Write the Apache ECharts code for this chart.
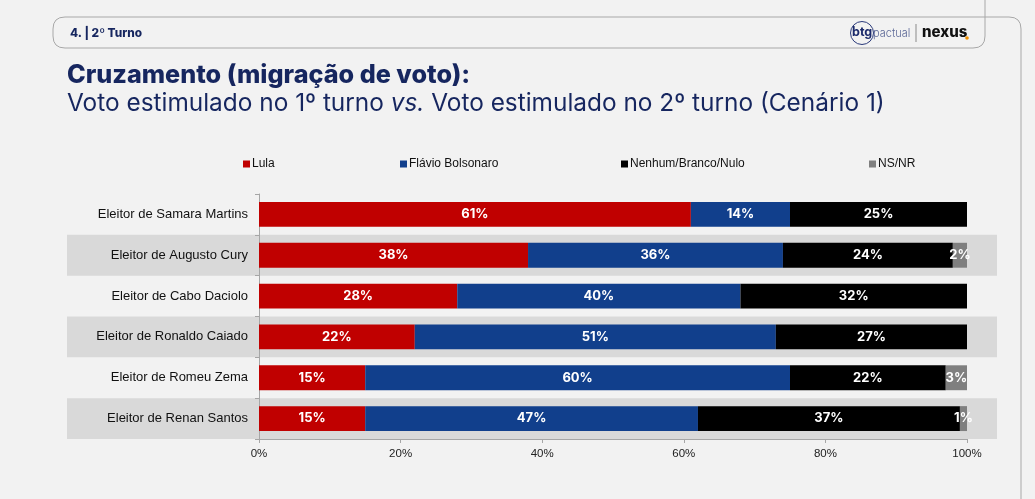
<!DOCTYPE html>
<html>
<head>
<meta charset="utf-8">
<script src="https://cdn.jsdelivr.net/npm/echarts@6/dist/echarts.min.js"></script>
<style>
  html, body { margin: 0; padding: 0; background: #f2f2f2; }
  #chart { width: 1035px; height: 499px; }
</style>
</head>
<body>
<div id="chart"></div>
<script>
// categorias (eleitores do 1º turno)
const categories = [
  "Eleitor de Samara Martins",
  "Eleitor de Augusto Cury",
  "Eleitor de Cabo Daciolo",
  "Eleitor de Ronaldo Caiado",
  "Eleitor de Romeu Zema",
  "Eleitor de Renan Santos"
];

// voto no 2º turno (%)
const lula = [61, 38, 28, 22, 15, 15];
const flavio = [14, 36, 40, 51, 60, 47];
const nenhum = [25, 24, 32, 27, 22, 37];
const nsnr = [0, 2, 0, 0, 3, 1];

const xTicks = [0, 20, 40, 60, 80, 100];

const navy = "#16265f";
const sans = "Liberation Sans, Arial, sans-serif";
const frame = "#a8a8a8";

const seriesDefs = [
  { name: "Lula", data: lula, color: "#c00000" },
  { name: "Flávio Bolsonaro", data: flavio, color: "#113f8c" },
  { name: "Nenhum/Branco/Nulo", data: nenhum, color: "#000000" },
  { name: "NS/NR", data: nsnr, color: "#7f7f7f" }
];
const legendLeft = [238, 395, 616, 864];

// moldura do cabeçalho
const seg = (pts) => ({ type: "polyline", shape: { points: pts }, style: { fill: null, stroke: frame, lineWidth: 1 } });
const curve = (x1, y1, cx, cy, x2, y2) => ({
  type: "bezierCurve",
  shape: { x1: x1, y1: y1, cpx1: cx, cpy1: cy, x2: x2, y2: y2 },
  style: { fill: null, stroke: frame, lineWidth: 1 }
});

const myChart = echarts.init(document.getElementById("chart"));

myChart.setOption({
  backgroundColor: "#f2f2f2",
  animation: false,
  title: [
    {
      text: "Cruzamento (migração de voto):",
      left: 62,
      top: 58,
      textStyle: { fontFamily: "Inter", fontWeight: 800, fontSize: 25.2, color: navy }
    },
    {
      text: "Voto estimulado no 1º turno {i|vs.} Voto estimulado no 2º turno (Cenário 1)",
      left: 62,
      top: 87,
      textStyle: {
        fontFamily: "Inter", fontWeight: "normal", fontSize: 24.4, color: navy,
        rich: {
          i: { fontFamily: "Inter", fontStyle: "italic", fontSize: 24.4, color: navy }
        }
      }
    }
  ],
  legend: seriesDefs.map((s, i) => ({
    data: [s.name],
    left: legendLeft[i],
    top: 153,
    itemWidth: 7,
    itemHeight: 7,
    icon: "rect",
    textStyle: { fontFamily: sans, fontSize: 12, color: "#111", padding: [0, 0, 0, -3] }
  })),
  grid: [
    { left: 259, right: 68, top: 194, bottom: 60 },
    { left: 67, right: 38, top: 194, bottom: 60 }
  ],
  xAxis: [
    {
      type: "value",
      gridIndex: 0,
      min: xTicks[0],
      max: xTicks[xTicks.length - 1],
      interval: 20,
      axisLine: { show: true, lineStyle: { color: "#a6a6a6" } },
      axisTick: { show: true, length: 4, lineStyle: { color: "#a6a6a6" } },
      splitLine: { show: false },
      axisLabel: { formatter: "{value}%", fontFamily: sans, fontSize: 11.5, color: "#222", margin: 9 }
    },
    { type: "value", gridIndex: 1, min: 0, max: 1, show: false }
  ],
  yAxis: [
    {
      type: "category",
      gridIndex: 0,
      data: categories,
      inverse: true,
      axisLine: { show: true, lineStyle: { color: "#a6a6a6" } },
      axisTick: { show: true, length: 4, lineStyle: { color: "#a6a6a6" } },
      axisLabel: { fontFamily: sans, fontSize: 13, color: "#111", margin: 11 }
    },
    {
      // faixas cinza alternadas
      type: "category",
      gridIndex: 1,
      data: categories,
      inverse: true,
      axisLine: { show: false },
      axisTick: { show: false },
      axisLabel: { show: false },
      splitArea: { show: true, areaStyle: { color: ["rgba(0,0,0,0)", "#d9d9d9"] } }
    }
  ],
  series: seriesDefs.map((s) => ({
    name: s.name,
    type: "bar",
    stack: "total",
    xAxisIndex: 0,
    yAxisIndex: 0,
    barCategoryGap: "39%",
    data: s.data,
    itemStyle: { color: s.color },
    label: {
      show: true,
      position: "inside",
      formatter: (p) => (p.value > 0 ? p.value + "%" : ""),
      fontFamily: "Inter",
      fontWeight: "bold",
      fontSize: 13,
      color: "#fff"
    }
  })),
  graphic: [
    seg([[985, 0], [985, 36]]),
    curve(985, 36, 985, 48, 973, 48),
    seg([[973, 48], [65, 48]]),
    curve(65, 48, 53, 48, 53, 36),
    seg([[53, 36], [53, 29]]),
    curve(53, 29, 53, 17, 65, 17),
    seg([[65, 17], [1009, 17]]),
    curve(1009, 17, 1021, 17, 1021, 29),
    seg([[1021, 29], [1021, 499]]),
    {
      type: "text",
      left: 70,
      top: 27,
      style: { text: "4. | 2º Turno", font: "800 11.8px Inter", fill: navy }
    },
    {
      type: "circle",
      shape: { cx: 862, cy: 33, r: 11.5 },
      style: { fill: null, stroke: "#2a3a7a", lineWidth: 1 }
    },
    {
      type: "text",
      left: 852,
      top: 26,
      style: { text: "btg", font: "bold 12.5px Inter", fill: "#1b2a6b" }
    },
    {
      type: "text",
      left: 873,
      top: 28,
      style: { text: "pactual", font: "300 11px Inter", fill: "#5b6796" }
    },
    {
      type: "line",
      shape: { x1: 916, y1: 24, x2: 916, y2: 42 },
      style: { stroke: "#8a8a8a", lineWidth: 1 }
    },
    {
      type: "text",
      left: 922,
      top: 25,
      style: { text: "nexus", font: "800 15px Inter", fill: "#111" }
    },
    {
      type: "circle",
      shape: { cx: 967, cy: 38, r: 1.8 },
      style: { fill: "#f39200" }
    }
  ]
});
</script>
</body>
</html>
